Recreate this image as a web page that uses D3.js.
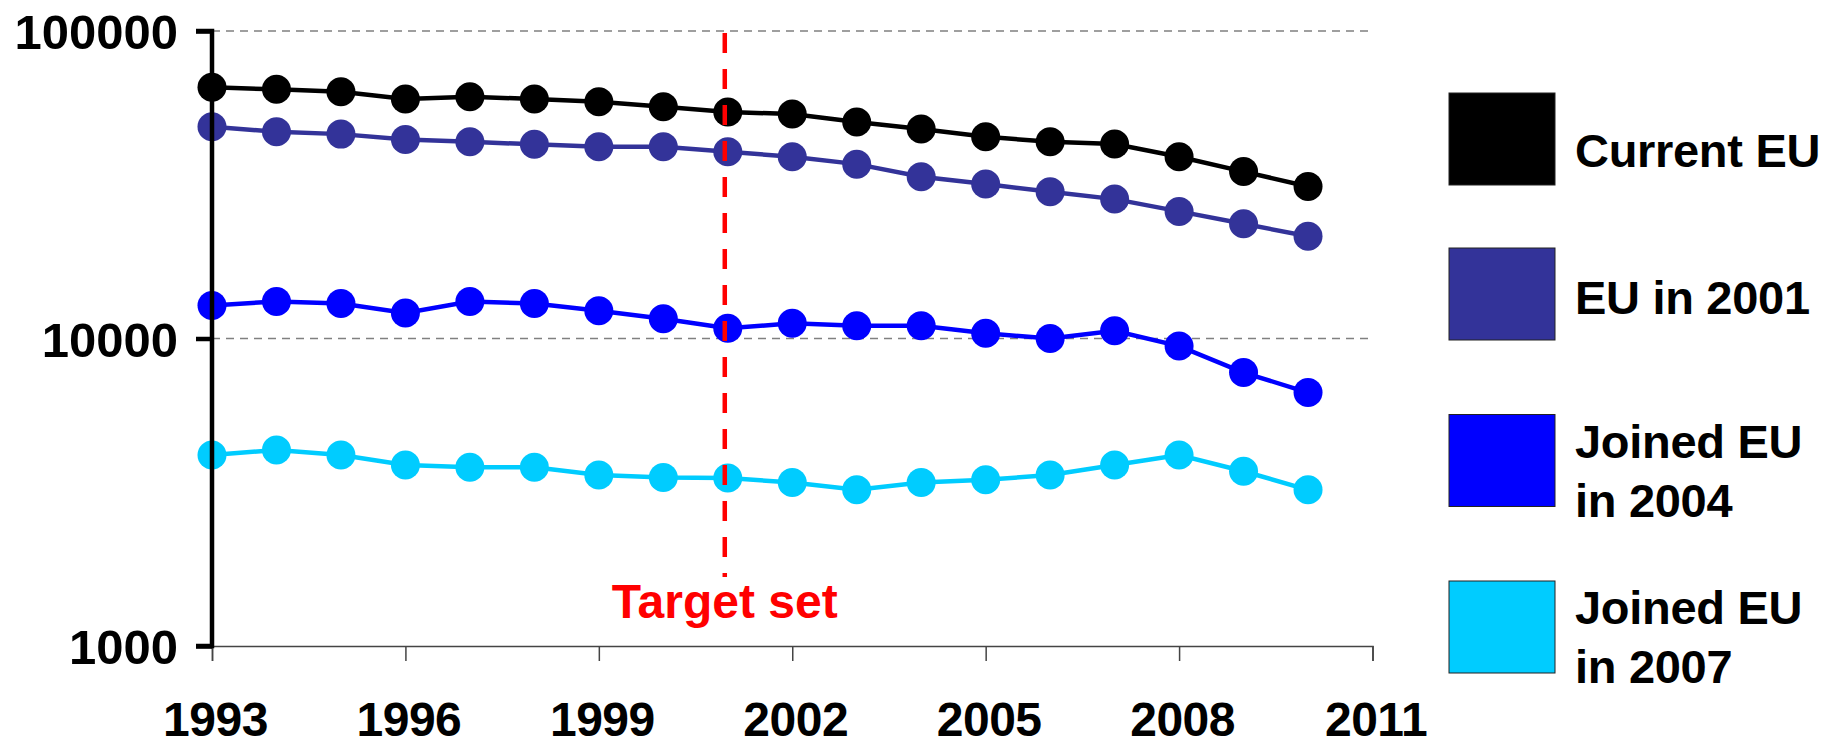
<!DOCTYPE html>
<html><head><meta charset="utf-8">
<script src="https://cdn.jsdelivr.net/npm/d3@7"></script>
<style>html,body{margin:0;padding:0;background:#fff;}svg{display:block;}</style>
</head><body><svg id="c" width="1843" height="741"></svg>
<script>
const years = [1993,1994,1995,1996,1997,1998,1999,2000,2001,2002,2003,2004,2005,2006,2007,2008,2009,2010];
const currentEU = [65600,64600,63500,60100,61100,60100,58900,56700,54500,53700,50600,48000,45300,43600,42900,39000,34900,31200];
const eu2001 = [48800,47000,46200,44400,43600,42800,42000,42000,40500,39000,36900,33600,31800,30000,28400,25900,23600,21500];
const joined2004 = [12800,13200,13000,12100,13200,13000,12300,11600,10800,11200,11000,11000,10400,10000,10600,9450,7750,6670];
const joined2007 = [4180,4340,4180,3880,3810,3810,3600,3530,3520,3400,3220,3400,3470,3600,3880,4180,3700,3220];
const seriesNames = ["Current EU","EU in 2001","Joined EU in 2004","Joined EU in 2007"];
const legendLines = [["Current EU"],["EU in 2001"],["Joined EU","in 2004"],["Joined EU","in 2007"]];
const seriesColors = ["#000000","#333399","#0000ff","#00ccff"];
const xTicks = [1993,1996,1999,2002,2005,2008,2011];
const yTicks = [1000,10000,100000];
const targetYear = 2001;
const targetLabel = "Target set";

const svg = d3.select("#c");
const x = d3.scaleLinear().domain([1993, 2011]).range([212, 1372.5]);
const y = d3.scaleLog().domain([1000, 100000]).range([646, 31]);
const font = "'Liberation Sans', Arial, Helvetica, sans-serif";

// gridlines
svg.append("g").selectAll("line").data(yTicks.filter(d => d > 1000)).join("line")
  .attr("x1", x(1993)).attr("x2", x(2011))
  .attr("y1", d => y(d)).attr("y2", d => y(d))
  .attr("stroke", "#808080").attr("stroke-width", 1.5).attr("stroke-dasharray", "8,6");

// x axis
const xAxis = d3.axisBottom(x).tickValues(xTicks).tickFormat(d3.format("d")).tickSize(15).tickPadding(40);
const gx = svg.append("g").attr("transform", `translate(0,${y(1000)})`).call(xAxis);
gx.select(".domain").attr("stroke", "#444").attr("stroke-width", 1.5);
gx.selectAll(".tick line").attr("stroke", "#444").attr("stroke-width", 1.5);
gx.selectAll("text").attr("font-family", font).attr("font-weight", "bold").attr("font-size", 48)
  .attr("fill", "#000").attr("dy", null).attr("y", 90).attr("x", 3).attr("letter-spacing", -0.5);

// series
const data = [currentEU, eu2001, joined2004, joined2007];
const line = d3.line().x((d, i) => x(years[i])).y(d => y(d));
data.forEach((vals, si) => {
  const g = svg.append("g");
  g.append("path").datum(vals).attr("d", line).attr("fill", "none")
    .attr("stroke", seriesColors[si]).attr("stroke-width", 4.5);
  g.selectAll("circle").data(vals).join("circle")
    .attr("cx", (d, i) => x(years[i])).attr("cy", d => y(d)).attr("r", 14.5)
    .attr("fill", seriesColors[si]);
});

// y axis
const yAxis = d3.axisLeft(y).tickValues(yTicks).tickFormat(d3.format("d")).tickSize(16).tickPadding(18);
const gy = svg.append("g").attr("transform", `translate(${x(1993)},0)`).call(yAxis);
gy.select(".domain").attr("stroke", "#000").attr("stroke-width", 4.5).attr("d", `M-16,${y(100000)}H0V${y(1000)}H-16`);
gy.selectAll(".tick line").attr("stroke", "#000").attr("stroke-width", 4.5);
gy.selectAll("text").attr("font-family", font).attr("font-weight", "bold").attr("font-size", 49)
  .attr("fill", "#000").attr("dy", "0.36em").attr("letter-spacing", 0);

// target line
svg.append("line").attr("x1", x(targetYear) - 3).attr("x2", x(targetYear) - 3)
  .attr("y1", 33).attr("y2", 577).attr("stroke", "#ff0000").attr("stroke-width", 4.5)
  .attr("stroke-dasharray", "20,16");
svg.append("text").attr("x", x(targetYear) - 3).attr("y", 618).attr("text-anchor", "middle")
  .attr("font-family", font).attr("font-weight", "bold").attr("font-size", 48).attr("fill", "#ff0000")
  .attr("letter-spacing", 0).text(targetLabel);

// legend
const lg = svg.append("g");
const boxTop = [93, 248, 414.5, 581];
const firstBaseline = [167, 314, 457.5, 623.5];
legendLines.forEach((lines, i) => {
  lg.append("rect").attr("x", 1449).attr("y", boxTop[i]).attr("width", 106).attr("height", 92)
    .attr("fill", seriesColors[i]).attr("stroke", "#222").attr("stroke-width", 1);
  const t = lg.append("text").attr("font-family", font).attr("font-weight", "bold").attr("font-size", 47)
    .attr("fill", "#000").attr("letter-spacing", -0.3);
  lines.forEach((s, j) => {
    t.append("tspan").attr("x", 1575).attr("y", firstBaseline[i] + j * 59).text(s);
  });
});
</script></body></html>
